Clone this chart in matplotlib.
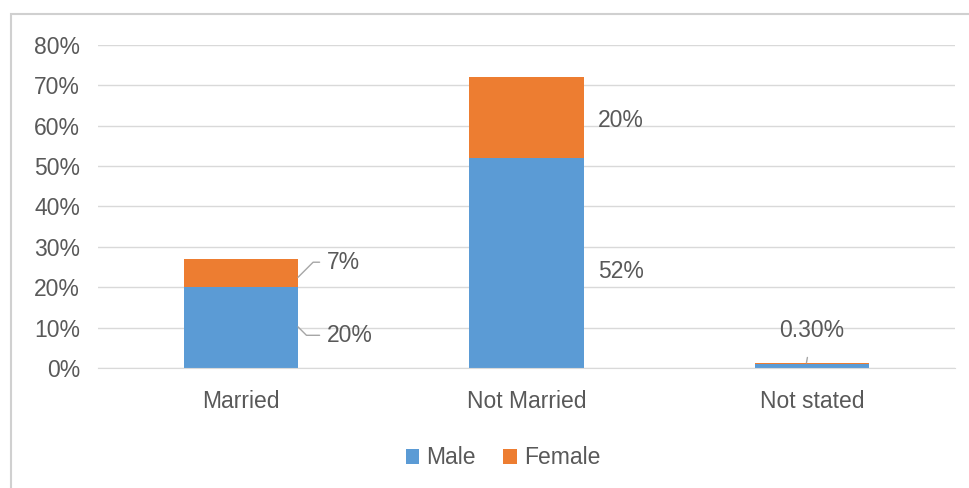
import matplotlib.pyplot as plt
from matplotlib.patches import Rectangle

plt.rcParams["font.family"] = ["Liberation Sans", "DejaVu Sans"]

# marital status split by gender, share of respondents (%)
categories = ["Married", "Not Married", "Not stated"]
male = [20, 52, 1.0]
female = [7, 20, 0.3]
yticks = [0, 10, 20, 30, 40, 50, 60, 70, 80]

text_col = "#595959"
blue = "#5B9BD5"
orange = "#ED7D31"
fs = 16.5

fig = plt.figure(figsize=(9.7, 4.88), dpi=100)
# light outer frame of the chart area
fig.patches.append(Rectangle((11 / 970, -0.01), 1.0, 1 - 14 / 488 + 0.01,
                             transform=fig.transFigure, fill=False,
                             edgecolor="#d0d0d0", linewidth=1.5))
ax = fig.add_axes([98 / 970, 1 - 368 / 488, 857 / 970, 323 / 488])

x = list(range(len(categories)))
ax.bar(x, male, width=0.4, color=blue, label="Male", zorder=2)
ax.bar(x, female, width=0.4, bottom=male, color=orange, label="Female", zorder=2)

ax.set_xlim(-0.5, 2.5)
ax.set_ylim(0, 80)
ax.set_yticks(yticks)
ax.set_yticklabels([f"{v}%" for v in yticks])
ax.set_xticks(x)
ax.set_xticklabels(categories)
ax.yaxis.grid(True, color="#d9d9d9", linewidth=1)
ax.set_axisbelow(True)
for side in ["top", "right", "left"]:
    ax.spines[side].set_visible(False)
ax.spines["bottom"].set_color("#d9d9d9")
ax.tick_params(axis="both", length=0, labelsize=fs, labelcolor=text_col)
ax.tick_params(axis="y", pad=13)
ax.tick_params(axis="x", pad=16)


def leader(angle_b):
    return dict(arrowstyle="-", color="#a6a6a6", linewidth=1,
                connectionstyle=f"angle,angleA=0,angleB={angle_b},rad=0",
                shrinkA=3, shrinkB=0)


# Married: labels pulled out to the right with leader lines
ax.annotate(f"{female[0]}%", xy=(0.2, male[0] + female[0] * 0.35), xytext=(0.3, 26.2),
            fontsize=fs, color=text_col, va="center", ha="left", arrowprops=leader(45))
ax.annotate(f"{male[0]}%", xy=(0.2, male[0] * 0.51), xytext=(0.3, 8.1),
            fontsize=fs, color=text_col, va="center", ha="left", arrowprops=leader(-45))

# Not Married: labels beside the bar
ax.text(1.25, male[1] + female[1] - 10.7, f"{female[1]}%", fontsize=fs, color=text_col,
        va="center", ha="left")
ax.text(1.25, male[1] - 27.5 - 0.7, f"{male[1]}%", fontsize=fs, color=text_col,
        va="center", ha="left")

# Not stated: female share above the thin bar
ax.annotate(f"{female[2]:.2f}%", xy=(1.98, male[2] + female[2]), xytext=(2.0, 9.2),
            fontsize=fs, color=text_col, va="center", ha="center",
            arrowprops=dict(arrowstyle="-", color="#a6a6a6", linewidth=1,
                            shrinkA=9, shrinkB=0))

leg = fig.legend(loc="center", bbox_to_anchor=(503 / 970, 1 - 458 / 488), ncol=2,
                 frameon=False, fontsize=fs, handlelength=0.6, handleheight=0.6,
                 handletextpad=0.3, columnspacing=1.2, labelcolor=text_col)

fig.savefig("out.png", dpi=100)
